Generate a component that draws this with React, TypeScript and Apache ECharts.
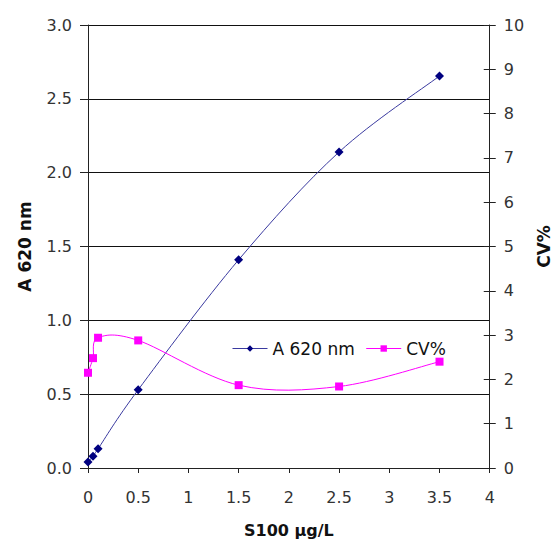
import React, { useEffect, useRef } from "react";
import * as echarts from "echarts";

const xValues = [0, 0.05, 0.1, 0.5, 1.5, 2.5, 3.5];
const absorbance = [0.04, 0.08, 0.13, 0.53, 1.41, 2.14, 2.655];
const cvPercent = [2.15, 2.48, 2.94, 2.88, 1.87, 1.84, 2.4];

const FONT = "DejaVu Sans, Verdana, sans-serif";

// Excel-like smoothed segment (Catmull-Rom, tension 1/6) in pixel space
function smoothSegment(ys: number[], color: string) {
  return (params: any, api: any) => {
    const i = params.dataIndex;
    const n = xValues.length;
    const p = (k: number) => {
      const kk = Math.max(0, Math.min(n - 1, k));
      return api.coord([xValues[kk], ys[kk]]);
    };
    const p0 = p(i - 1);
    const p1 = p(i);
    const p2 = p(i + 1);
    const p3 = p(i + 2);
    return {
      type: "bezierCurve",
      shape: {
        x1: p1[0],
        y1: p1[1],
        x2: p2[0],
        y2: p2[1],
        cpx1: p1[0] + (p2[0] - p0[0]) / 6,
        cpy1: p1[1] + (p2[1] - p0[1]) / 6,
        cpx2: p2[0] - (p3[0] - p1[0]) / 6,
        cpy2: p2[1] - (p3[1] - p1[1]) / 6,
      },
      style: { stroke: color, fill: "none", lineWidth: 1 },
      silent: true,
    };
  };
}

export default function App() {
  const ref = useRef<HTMLDivElement>(null);
  useEffect(() => {
    if (!ref.current) return;
    const chart = echarts.init(ref.current, undefined, { renderer: "svg" });
    const label = { color: "#333", fontFamily: FONT, fontSize: 16 };
    const nameStyle = { color: "#111", fontFamily: FONT, fontSize: 17, fontWeight: "bold" as const };
    const segData = (ys: number[]) => xValues.slice(0, -1).map((x, i) => [x, ys[i]]);
    chart.setOption({
      animation: false,
      backgroundColor: "#fff",
      grid: { left: 88, right: 70, top: 25, bottom: 76, containLabel: false },
      legend: {
        left: 227,
        top: 335,
        itemWidth: 35,
        itemHeight: 8,
        itemGap: 11,
        textStyle: { color: "#111", fontFamily: FONT, fontSize: 17 },
        data: [
          { name: "A 620 nm", lineStyle: { color: "#3a3aa0", width: 1, opacity: 1 } },
          { name: "CV%", lineStyle: { color: "#ff00ff", width: 1, opacity: 1 } },
        ],
      },
      xAxis: {
        type: "value",
        min: 0,
        max: 4,
        interval: 0.5,
        name: "S100 µg/L",
        nameLocation: "middle",
        nameGap: 54,
        nameTextStyle: { ...nameStyle, fontSize: 16 },
        axisLine: { show: true, lineStyle: { color: "#222", width: 1 } },
        axisTick: { show: true, length: 5, lineStyle: { color: "#222" } },
        axisLabel: { ...label, margin: 21 },
        splitLine: { show: false },
      },
      yAxis: [
        {
          type: "value",
          min: 0,
          max: 3,
          interval: 0.5,
          position: "left",
          name: "A 620 nm",
          nameLocation: "middle",
          nameRotate: 90,
          nameGap: 55,
          nameTextStyle: nameStyle,
          axisLine: { show: true, lineStyle: { color: "#222", width: 1 } },
          axisTick: { show: true, length: 8, lineStyle: { color: "#222" } },
          axisLabel: { ...label, margin: 16, formatter: (v: number) => v.toFixed(1) },
          splitLine: { show: true, lineStyle: { color: "#111", width: 1 } },
        },
        {
          type: "value",
          min: 0,
          max: 10,
          interval: 1,
          position: "right",
          name: "CV%",
          nameLocation: "middle",
          nameRotate: 90,
          nameGap: 40,
          nameTextStyle: nameStyle,
          axisLine: { show: true, lineStyle: { color: "#222", width: 1 } },
          axisTick: { show: true, length: 6, lineStyle: { color: "#222" } },
          axisLabel: { ...label, margin: 14 },
          splitLine: { show: false },
        },
        {
          type: "value",
          min: 0,
          max: 10,
          interval: 1,
          position: "right",
          axisLine: { show: false },
          axisTick: { show: true, inside: true, length: 6, lineStyle: { color: "#222" } },
          axisLabel: { show: false },
          splitLine: { show: false },
        },
      ],
      series: [
        {
          name: "A curve",
          type: "custom",
          yAxisIndex: 0,
          data: segData(absorbance),
          renderItem: smoothSegment(absorbance, "#3a3aa0"),
          z: 2,
        },
        {
          name: "CV curve",
          type: "custom",
          yAxisIndex: 1,
          data: segData(cvPercent),
          renderItem: smoothSegment(cvPercent, "#ff00ff"),
          z: 2,
        },
        {
          name: "A 620 nm",
          type: "line",
          yAxisIndex: 0,
          data: xValues.map((x, i) => [x, absorbance[i]]),
          symbol: "diamond",
          symbolSize: 9,
          itemStyle: { color: "#000080" },
          lineStyle: { color: "#3a3aa0", width: 1, opacity: 0 },
          z: 4,
        },
        {
          name: "CV%",
          type: "line",
          yAxisIndex: 1,
          data: xValues.map((x, i) => [x, cvPercent[i]]),
          symbol: "rect",
          symbolSize: 8,
          itemStyle: { color: "#ff00ff" },
          lineStyle: { color: "#ff00ff", width: 1, opacity: 0 },
          z: 3,
        },
      ],
    });
    return () => chart.dispose();
  }, []);
  return (
    <div
      ref={ref}
      style={{ position: "absolute", left: 0, top: 0, width: 560, height: 544 }}
    />
  );
}
